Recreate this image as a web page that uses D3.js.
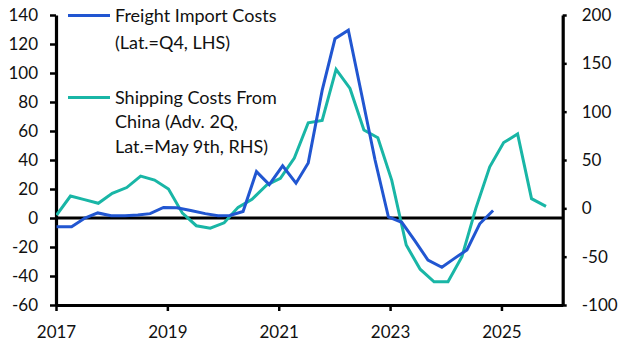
<!DOCTYPE html>
<html>
<head>
<meta charset="utf-8">
<script src="https://cdn.jsdelivr.net/npm/d3@7/dist/d3.min.js"></script>
<style>
  html, body { margin: 0; padding: 0; background: #fff; }
  svg { display: block; }
  text { font-family: Lato, "Open Sans", sans-serif; fill: #111; }
</style>
</head>
<body>
<svg id="chart" width="629" height="356"></svg>
<script>
// ---- Data ----
const xTicks = [2017, 2019, 2021, 2023, 2025];
const leftTicks = [-60, -40, -20, 0, 20, 40, 60, 80, 100, 120, 140];
const rightTicks = [-100, -50, 0, 50, 100, 150, 200];

// Freight Import Costs (LHS), quarterly, decimal-year positions
const freightDates = [2017.01, 2017.28, 2017.52, 2017.75, 2017.99, 2018.24, 2018.47, 2018.69, 2018.93, 2019.17,
  2019.42, 2019.68, 2019.91, 2020.12, 2020.36, 2020.60, 2020.83, 2021.07, 2021.31, 2021.53,
  2021.78, 2022.01, 2022.25, 2022.49, 2022.73, 2022.97, 2023.21, 2023.45, 2023.68, 2023.93,
  2024.15, 2024.38, 2024.61, 2024.85];
const freightValues = [-6, -6, 0, 3.5, 1.5, 1.5, 2, 3, 7.3, 7,
  5.2, 3, 1.6, 1.8, 4.5, 32, 23, 36, 24, 38,
  88, 123.6, 129.5, 85, 40, 0.7, -3, -16, -29, -34,
  -28, -22, -4, 5.2];

// Shipping Costs From China (RHS), advanced 2Q
const shippingDates = [2017.01, 2017.26, 2017.51, 2017.76, 2018.01, 2018.27, 2018.52, 2018.77, 2019.02, 2019.27,
  2019.52, 2019.77, 2020.02, 2020.27, 2020.52, 2020.78, 2021.03, 2021.28, 2021.53, 2021.78,
  2022.03, 2022.28, 2022.53, 2022.78, 2023.03, 2023.29, 2023.54, 2023.79, 2024.04, 2024.29,
  2024.54, 2024.79, 2025.04, 2025.29, 2025.54, 2025.80];
const shippingValues = [-7, 12.7, 9, 5.2, 15.5, 21.5, 33.4, 29.3, 20, -5,
  -18, -20.6, -15, 1, 9.3, 24, 31, 52, 88.5, 91,
  143.7, 124, 81, 73, 29, -38, -63, -76, -76, -50,
  0, 43, 68, 77, 10, 2];

const legendItems = [
  { lines: ["Freight Import Costs", "(Lat.=Q4, LHS)"], color: "#2156d1" },
  { lines: ["Shipping Costs From", "China (Adv. 2Q,", "Lat.=May 9th, RHS)"], color: "#19b6a6" }
];

// ---- Layout ----
const svg = d3.select("#chart");
const L = 56, R = 562.7, T = 15, B = 305;

const x = d3.scaleLinear().domain([2017, 2026.1]).range([L, R]);
const yL = d3.scaleLinear().domain([-60, 140]).range([B, T]);
const yR = d3.scaleLinear().domain([-100, 200]).range([B, T]);

const fmt = d => String(d);

// Left axis
const gL = svg.append("g").attr("transform", `translate(${L},0)`)
  .call(d3.axisLeft(yL).tickValues(leftTicks).tickSize(6).tickSizeOuter(0).tickPadding(12).tickFormat(fmt));
// Right axis
const gR = svg.append("g").attr("transform", `translate(${R},0)`)
  .call(d3.axisRight(yR).tickValues(rightTicks).tickSize(4).tickSizeOuter(0).tickPadding(15).tickFormat(fmt));
// Bottom axis
const gB = svg.append("g").attr("transform", `translate(0,${B})`)
  .call(d3.axisBottom(x).tickValues(xTicks).tickSize(6).tickSizeOuter(0).tickPadding(15).tickFormat(d3.format("d")));

[gL, gR, gB].forEach(g => {
  g.select(".domain").attr("stroke", "#000").attr("stroke-width", 3.2);
  g.selectAll(".tick line").attr("stroke", "#000").attr("stroke-width", 2.5);
  g.selectAll(".tick text").attr("font-size", 17).attr("fill", "#111")
    .style("font-family", "Lato, 'Open Sans', sans-serif");
});

// Zero line (LHS)
svg.append("line")
  .attr("x1", L).attr("x2", R)
  .attr("y1", yL(0)).attr("y2", yL(0))
  .attr("stroke", "#000").attr("stroke-width", 3);

// Series lines
svg.append("clipPath").attr("id", "plotclip")
  .append("rect").attr("x", L).attr("y", T - 5).attr("width", R - L).attr("height", B - T + 5);

const freightLine = d3.line().x((d, i) => x(freightDates[i])).y(d => yL(d));
const shippingLine = d3.line().x((d, i) => x(shippingDates[i])).y(d => yR(d));

svg.append("path").datum(shippingValues)
  .attr("d", shippingLine).attr("fill", "none")
  .attr("stroke", legendItems[1].color).attr("stroke-width", 3)
  .attr("stroke-linejoin", "miter").attr("clip-path", "url(#plotclip)");

svg.append("path").datum(freightValues)
  .attr("d", freightLine).attr("fill", "none")
  .attr("stroke", legendItems[0].color).attr("stroke-width", 3)
  .attr("stroke-linejoin", "miter").attr("clip-path", "url(#plotclip)");

// Legend
const legendPos = [{ y: 15.5, lh: 27 }, { y: 97.5, lh: 24.5 }];
legendItems.forEach((item, k) => {
  const p = legendPos[k];
  svg.append("line").attr("x1", 68).attr("x2", 110)
    .attr("y1", p.y).attr("y2", p.y)
    .attr("stroke", item.color).attr("stroke-width", 3);
  item.lines.forEach((ln, j) => {
    svg.append("text").attr("x", 115).attr("y", p.y + j * p.lh)
      .attr("dy", "0.35em").attr("font-size", 18).text(ln);
  });
});
</script>
</body>
</html>
